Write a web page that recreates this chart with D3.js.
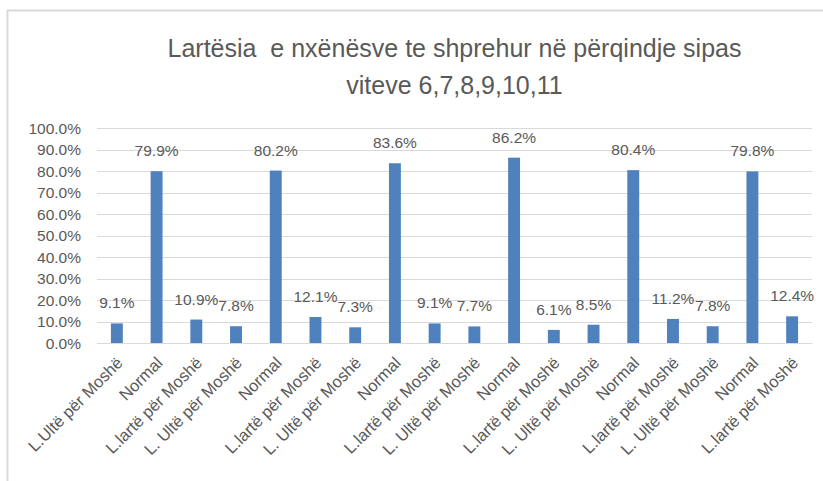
<!DOCTYPE html>
<html>
<head>
<meta charset="utf-8">
<script src="https://cdn.jsdelivr.net/npm/d3@7"></script>
<style>
  body { margin: 0; background: #fff; }
  text { font-family: "Liberation Sans", Arial, sans-serif; fill: #595959; }
</style>
</head>
<body>
<div id="chart"></div>
<script>
// categories repeat for each age group (6..11)
var categories = [
    "L.Ultë për Moshë", "Normal", "L.lartë për Moshë",
    "L. Ultë për Moshë", "Normal", "L.lartë për Moshë",
    "L. Ultë për Moshë", "Normal", "L.lartë për Moshë",
    "L. Ultë për Moshë", "Normal", "L.lartë për Moshë",
    "L. Ultë për Moshë", "Normal", "L.lartë për Moshë",
    "L. Ultë për Moshë", "Normal", "L.lartë për Moshë"
];
var values = [9.1, 79.9, 10.9, 7.8, 80.2, 12.1, 7.3, 83.6, 9.1, 7.7, 86.2, 6.1, 8.5, 80.4, 11.2, 7.8, 79.8, 12.4];
var yTicks = [0, 10, 20, 30, 40, 50, 60, 70, 80, 90, 100];
var titleLines = ["Lartësia  e nxënësve te shprehur në përqindje sipas", "viteve 6,7,8,9,10,11"];

function init() {
    var w = 823;
    var h = 481;
    var left = 97, right = 812, top = 128, bottom = 343;

    var svg = d3.select("#chart").append("svg")
        .attr("width", w)
        .attr("height", h);

    // chart frame (cropped on right and bottom)
    svg.append("rect")
        .attr("x", 7.5).attr("y", 10.5)
        .attr("width", 900).attr("height", 600)
        .attr("fill", "none")
        .attr("stroke", "#d9d9d9")
        .attr("stroke-width", 2);

    var xScale = d3.scaleBand()
        .domain(d3.range(values.length))
        .range([left, right])
        .paddingInner(0.7)
        .paddingOuter(0.35);
    var yScale = d3.scaleLinear()
        .domain([0, 100])
        .range([bottom, top]);

    //Title (keep the double space)
    svg.selectAll(".title")
        .data(titleLines)
        .enter().append("text")
        .attr("class", "title")
        .attr("x", (left + right) / 2)
        .attr("y", (d, i) => 57 + i * 37)
        .style("text-anchor", "middle")
        .style("white-space", "pre")
        .style("font-size", "25px")
        .text(d => d);

    //Gridlines
    svg.append("g")
        .selectAll("line")
        .data(yTicks)
        .enter().append("line")
        .attr("x1", left).attr("x2", right)
        .attr("y1", d => Math.round(yScale(d)) + 0.5)
        .attr("y2", d => Math.round(yScale(d)) + 0.5)
        .attr("stroke", "#d9d9d9")
        .attr("stroke-width", 1);

    //Y axis labels
    var yAxis = svg.append("g")
        .attr("transform", `translate(${left - 13},0)`)
        .call(d3.axisLeft(yScale).tickValues(yTicks).tickSize(0).tickFormat(d => d.toFixed(1) + "%"));
    yAxis.select(".domain").remove();
    yAxis.selectAll("text")
        .style("font-size", "15.5px")
        .attr("fill", "#595959")
        .attr("dy", "0.35em");

    //Bars
    svg.selectAll(".bar")
        .data(values)
        .enter().append("rect")
        .attr("class", "bar")
        .attr("x", (d, i) => xScale(i))
        .attr("width", xScale.bandwidth())
        .attr("y", d => yScale(d))
        .attr("height", d => bottom - yScale(d))
        .attr("fill", "#4f81bd");

    //Data labels
    svg.selectAll(".val")
        .data(values)
        .enter().append("text")
        .attr("class", "val")
        .attr("x", (d, i) => xScale(i) + xScale.bandwidth() / 2)
        .attr("y", d => yScale(d) - 15)
        .style("text-anchor", "middle")
        .style("font-size", "15.5px")
        .text(d => d.toFixed(1) + "%");

    //X axis
    var xAxis = svg.append("g")
        .attr("transform", `translate(0,${bottom})`)
        .call(d3.axisBottom(xScale).tickSize(0).tickFormat(i => categories[i]));
    xAxis.select(".domain").attr("stroke", "#d9d9d9");
    xAxis.selectAll("text")
        .style("font-size", "16.5px")
        .attr("fill", "#595959")
        .style("text-anchor", "end")
        .attr("dy", null)
        .attr("y", 0)
        .attr("transform", "translate(7,21) rotate(-45)");
}

window.onload = init;
</script>
</body>
</html>
